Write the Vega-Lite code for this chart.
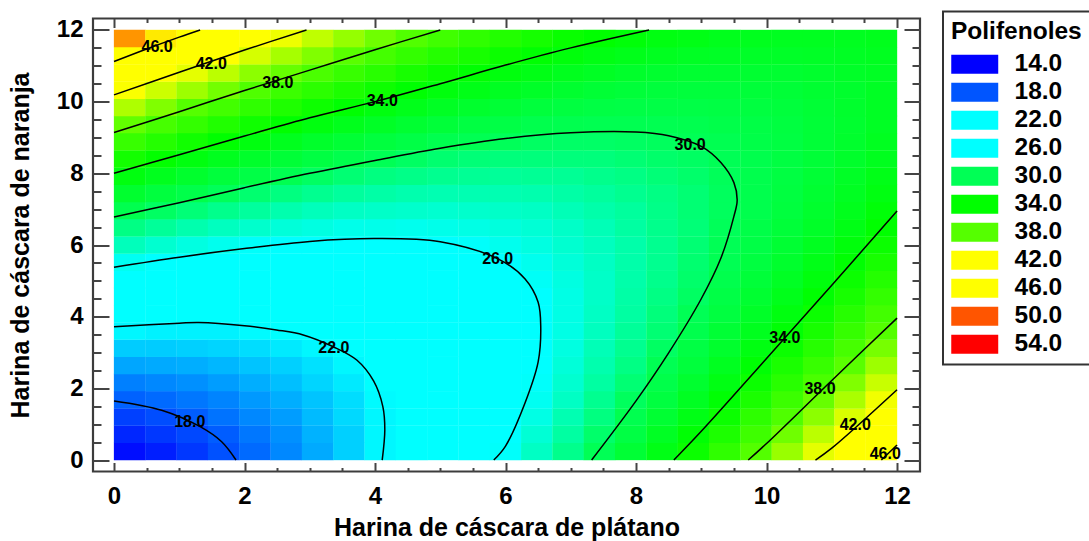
{"$schema":"https://vega.github.io/schema/vega-lite/v6.json","width":827,"height":453,"autosize":{"type":"none"},"padding":{"left":93,"top":18.5,"right":169,"bottom":69.5},"background":"white","config":{"font":"Liberation Sans","view":{"stroke":"#3c3c3c","strokeWidth":2.2},"legend":{"strokeWidth":2},"axis":{"grid":false,"domain":false,"tickColor":"#444444","tickWidth":2,"labelColor":"black","labelFont":"Liberation Sans","labelFontWeight":"bold","labelFontSize":24,"titleFont":"Liberation Sans","titleFontWeight":"bold","titleFontSize":25,"titleColor":"black"}},"datasets":{"upper":[{"c":"18","i":0,"x":0,"y":1.65},{"c":"18","i":1,"x":0.73,"y":1.39},{"c":"18","i":2,"x":1.32,"y":0.93},{"c":"18","i":3,"x":1.65,"y":0.51},{"c":"18","i":4,"x":1.87,"y":0},{"c":"22","i":0,"x":0,"y":3.72},{"c":"22","i":1,"x":1,"y":3.82},{"c":"22","i":2,"x":1.3,"y":3.84},{"c":"22","i":3,"x":2,"y":3.75},{"c":"22","i":4,"x":2.49,"y":3.63},{"c":"22","i":5,"x":2.9,"y":3.49},{"c":"22","i":6,"x":3.36,"y":3.16},{"c":"22","i":7,"x":3.72,"y":2.79},{"c":"22","i":8,"x":3.98,"y":2.2},{"c":"22","i":9,"x":4.12,"y":1.49},{"c":"22","i":10,"x":4.15,"y":0.84},{"c":"22","i":11,"x":4.11,"y":0},{"c":"26","i":0,"x":0,"y":5.38},{"c":"26","i":1,"x":1,"y":5.66},{"c":"26","i":2,"x":2,"y":5.9},{"c":"26","i":3,"x":3,"y":6.1},{"c":"26","i":4,"x":4,"y":6.18},{"c":"26","i":5,"x":5,"y":6.09},{"c":"26","i":6,"x":5.9,"y":5.6},{"c":"26","i":7,"x":6.3,"y":5.05},{"c":"26","i":8,"x":6.5,"y":4.4},{"c":"26","i":9,"x":6.54,"y":3.7},{"c":"26","i":10,"x":6.5,"y":2.74},{"c":"26","i":11,"x":6.3,"y":1.6},{"c":"26","i":12,"x":6,"y":0.39},{"c":"26","i":13,"x":5.82,"y":0},{"c":"30","i":0,"x":0,"y":6.78},{"c":"30","i":1,"x":1,"y":7.18},{"c":"30","i":2,"x":2,"y":7.6},{"c":"30","i":3,"x":3,"y":8.0},{"c":"30","i":4,"x":4,"y":8.36},{"c":"30","i":5,"x":5,"y":8.7},{"c":"30","i":6,"x":6,"y":8.97},{"c":"30","i":7,"x":7,"y":9.13},{"c":"30","i":8,"x":8,"y":9.15},{"c":"30","i":9,"x":8.5,"y":9.05},{"c":"30","i":10,"x":9,"y":8.75},{"c":"30","i":11,"x":9.3,"y":8.3},{"c":"30","i":12,"x":9.5,"y":7.74},{"c":"30","i":13,"x":9.55,"y":7.25},{"c":"30","i":14,"x":9.5,"y":6.8},{"c":"30","i":15,"x":9.3,"y":5.63},{"c":"30","i":16,"x":9,"y":4.5},{"c":"30","i":17,"x":8.5,"y":2.99},{"c":"30","i":18,"x":8,"y":1.65},{"c":"30","i":19,"x":7.32,"y":0},{"c":"34","i":0,"x":0,"y":8.0},{"c":"34","i":1,"x":1,"y":8.52},{"c":"34","i":2,"x":2,"y":9.04},{"c":"34","i":3,"x":3,"y":9.55},{"c":"34","i":4,"x":4,"y":10.0},{"c":"34","i":5,"x":5,"y":10.5},{"c":"34","i":6,"x":6,"y":11.02},{"c":"34","i":7,"x":7,"y":11.5},{"c":"34","i":8,"x":8.2,"y":12},{"c":"38","i":0,"x":0,"y":9.14},{"c":"38","i":1,"x":1,"y":9.72},{"c":"38","i":2,"x":2,"y":10.31},{"c":"38","i":3,"x":3,"y":10.88},{"c":"38","i":4,"x":4,"y":11.45},{"c":"38","i":5,"x":5,"y":12},{"c":"42","i":0,"x":0,"y":10.19},{"c":"42","i":1,"x":1,"y":10.82},{"c":"42","i":2,"x":2,"y":11.44},{"c":"42","i":3,"x":2.95,"y":12},{"c":"46","i":0,"x":0,"y":11.12},{"c":"46","i":1,"x":0.5,"y":11.47},{"c":"46","i":2,"x":1,"y":11.8},{"c":"46","i":3,"x":1.32,"y":12}],"lower":[{"c":"34b","i":0,"x":8.58,"y":0},{"c":"34b","i":1,"x":9,"y":0.8},{"c":"34b","i":2,"x":10,"y":2.83},{"c":"34b","i":3,"x":11,"y":4.88},{"c":"34b","i":4,"x":12,"y":6.95},{"c":"38b","i":0,"x":9.72,"y":0},{"c":"38b","i":1,"x":10,"y":0.46},{"c":"38b","i":2,"x":11,"y":2.22},{"c":"38b","i":3,"x":12,"y":3.96},{"c":"42b","i":0,"x":10.75,"y":0},{"c":"42b","i":1,"x":11,"y":0.33},{"c":"42b","i":2,"x":12,"y":1.96},{"c":"46b","i":0,"x":11.76,"y":0},{"c":"46b","i":1,"x":12,"y":0.42}],"labels":[{"t":"46.0","x":0.66,"y":11.53},{"t":"42.0","x":1.49,"y":11.05},{"t":"38.0","x":2.51,"y":10.52},{"t":"34.0","x":4.11,"y":10.02},{"t":"30.0","x":8.83,"y":8.79},{"t":"26.0","x":5.88,"y":5.61},{"t":"22.0","x":3.37,"y":3.13},{"t":"18.0","x":1.16,"y":1.06},{"t":"34.0","x":10.28,"y":3.4},{"t":"38.0","x":10.82,"y":1.98},{"t":"42.0","x":11.36,"y":0.98},{"t":"46.0","x":11.82,"y":0.17}],"grid":[
{"x":0.24,"y":0.24,"z":16.3},{"x":0.72,"y":0.24,"z":16.7},{"x":1.2,"y":0.24,"z":17.3},{"x":1.68,"y":0.24,"z":17.9},{"x":2.16,"y":0.24,"z":18.5},{"x":2.64,"y":0.24,"z":19.2},{"x":3.12,"y":0.24,"z":20.0},{"x":3.6,"y":0.24,"z":20.9},{"x":4.08,"y":0.24,"z":21.8},{"x":4.56,"y":0.24,"z":22.8},{"x":5.04,"y":0.24,"z":23.8},{"x":5.52,"y":0.24,"z":24.9},{"x":6.0,"y":0.24,"z":26.1},{"x":6.48,"y":0.24,"z":27.4},{"x":6.96,"y":0.24,"z":28.7},{"x":7.44,"y":0.24,"z":30.0},{"x":7.92,"y":0.24,"z":31.5},{"x":8.4,"y":0.24,"z":33.0},{"x":8.88,"y":0.24,"z":34.5},{"x":9.36,"y":0.24,"z":36.2},{"x":9.84,"y":0.24,"z":37.9},{"x":10.32,"y":0.24,"z":39.6},{"x":10.8,"y":0.24,"z":41.4},{"x":11.28,"y":0.24,"z":43.3},{"x":11.76,"y":0.24,"z":45.3},
{"x":0.24,"y":0.72,"z":16.9},{"x":0.72,"y":0.72,"z":17.3},{"x":1.2,"y":0.72,"z":17.7},{"x":1.68,"y":0.72,"z":18.2},{"x":2.16,"y":0.72,"z":18.8},{"x":2.64,"y":0.72,"z":19.4},{"x":3.12,"y":0.72,"z":20.2},{"x":3.6,"y":0.72,"z":20.9},{"x":4.08,"y":0.72,"z":21.8},{"x":4.56,"y":0.72,"z":22.7},{"x":5.04,"y":0.72,"z":23.7},{"x":5.52,"y":0.72,"z":24.7},{"x":6.0,"y":0.72,"z":25.8},{"x":6.48,"y":0.72,"z":27.0},{"x":6.96,"y":0.72,"z":28.2},{"x":7.44,"y":0.72,"z":29.5},{"x":7.92,"y":0.72,"z":30.8},{"x":8.4,"y":0.72,"z":32.3},{"x":8.88,"y":0.72,"z":33.8},{"x":9.36,"y":0.72,"z":35.3},{"x":9.84,"y":0.72,"z":36.9},{"x":10.32,"y":0.72,"z":38.6},{"x":10.8,"y":0.72,"z":40.4},{"x":11.28,"y":0.72,"z":42.2},{"x":11.76,"y":0.72,"z":44.0},
{"x":0.24,"y":1.2,"z":17.5},{"x":0.72,"y":1.2,"z":17.8},{"x":1.2,"y":1.2,"z":18.2},{"x":1.68,"y":1.2,"z":18.7},{"x":2.16,"y":1.2,"z":19.2},{"x":2.64,"y":1.2,"z":19.7},{"x":3.12,"y":1.2,"z":20.4},{"x":3.6,"y":1.2,"z":21.1},{"x":4.08,"y":1.2,"z":21.8},{"x":4.56,"y":1.2,"z":22.7},{"x":5.04,"y":1.2,"z":23.5},{"x":5.52,"y":1.2,"z":24.5},{"x":6.0,"y":1.2,"z":25.5},{"x":6.48,"y":1.2,"z":26.6},{"x":6.96,"y":1.2,"z":27.8},{"x":7.44,"y":1.2,"z":29.0},{"x":7.92,"y":1.2,"z":30.3},{"x":8.4,"y":1.2,"z":31.6},{"x":8.88,"y":1.2,"z":33.0},{"x":9.36,"y":1.2,"z":34.5},{"x":9.84,"y":1.2,"z":36.1},{"x":10.32,"y":1.2,"z":37.7},{"x":10.8,"y":1.2,"z":39.3},{"x":11.28,"y":1.2,"z":41.1},{"x":11.76,"y":1.2,"z":42.9},
{"x":0.24,"y":1.68,"z":18.3},{"x":0.72,"y":1.68,"z":18.5},{"x":1.2,"y":1.68,"z":18.8},{"x":1.68,"y":1.68,"z":19.1},{"x":2.16,"y":1.68,"z":19.6},{"x":2.64,"y":1.68,"z":20.1},{"x":3.12,"y":1.68,"z":20.6},{"x":3.6,"y":1.68,"z":21.2},{"x":4.08,"y":1.68,"z":21.9},{"x":4.56,"y":1.68,"z":22.7},{"x":5.04,"y":1.68,"z":23.5},{"x":5.52,"y":1.68,"z":24.4},{"x":6.0,"y":1.68,"z":25.3},{"x":6.48,"y":1.68,"z":26.3},{"x":6.96,"y":1.68,"z":27.4},{"x":7.44,"y":1.68,"z":28.6},{"x":7.92,"y":1.68,"z":29.8},{"x":8.4,"y":1.68,"z":31.0},{"x":8.88,"y":1.68,"z":32.4},{"x":9.36,"y":1.68,"z":33.8},{"x":9.84,"y":1.68,"z":35.2},{"x":10.32,"y":1.68,"z":36.8},{"x":10.8,"y":1.68,"z":38.4},{"x":11.28,"y":1.68,"z":40.0},{"x":11.76,"y":1.68,"z":41.7},
{"x":0.24,"y":2.16,"z":19.0},{"x":0.72,"y":2.16,"z":19.2},{"x":1.2,"y":2.16,"z":19.4},{"x":1.68,"y":2.16,"z":19.7},{"x":2.16,"y":2.16,"z":20.1},{"x":2.64,"y":2.16,"z":20.5},{"x":3.12,"y":2.16,"z":21.0},{"x":3.6,"y":2.16,"z":21.5},{"x":4.08,"y":2.16,"z":22.1},{"x":4.56,"y":2.16,"z":22.8},{"x":5.04,"y":2.16,"z":23.5},{"x":5.52,"y":2.16,"z":24.3},{"x":6.0,"y":2.16,"z":25.2},{"x":6.48,"y":2.16,"z":26.1},{"x":6.96,"y":2.16,"z":27.1},{"x":7.44,"y":2.16,"z":28.2},{"x":7.92,"y":2.16,"z":29.3},{"x":8.4,"y":2.16,"z":30.5},{"x":8.88,"y":2.16,"z":31.8},{"x":9.36,"y":2.16,"z":33.1},{"x":9.84,"y":2.16,"z":34.5},{"x":10.32,"y":2.16,"z":35.9},{"x":10.8,"y":2.16,"z":37.5},{"x":11.28,"y":2.16,"z":39.0},{"x":11.76,"y":2.16,"z":40.7},
{"x":0.24,"y":2.64,"z":19.9},{"x":0.72,"y":2.64,"z":20.0},{"x":1.2,"y":2.64,"z":20.1},{"x":1.68,"y":2.64,"z":20.3},{"x":2.16,"y":2.64,"z":20.6},{"x":2.64,"y":2.64,"z":20.9},{"x":3.12,"y":2.64,"z":21.3},{"x":3.6,"y":2.64,"z":21.8},{"x":4.08,"y":2.64,"z":22.3},{"x":4.56,"y":2.64,"z":22.9},{"x":5.04,"y":2.64,"z":23.6},{"x":5.52,"y":2.64,"z":24.3},{"x":6.0,"y":2.64,"z":25.1},{"x":6.48,"y":2.64,"z":26.0},{"x":6.96,"y":2.64,"z":26.9},{"x":7.44,"y":2.64,"z":27.9},{"x":7.92,"y":2.64,"z":28.9},{"x":8.4,"y":2.64,"z":30.1},{"x":8.88,"y":2.64,"z":31.2},{"x":9.36,"y":2.64,"z":32.5},{"x":9.84,"y":2.64,"z":33.8},{"x":10.32,"y":2.64,"z":35.2},{"x":10.8,"y":2.64,"z":36.6},{"x":11.28,"y":2.64,"z":38.1},{"x":11.76,"y":2.64,"z":39.7},
{"x":0.24,"y":3.12,"z":20.8},{"x":0.72,"y":3.12,"z":20.8},{"x":1.2,"y":3.12,"z":20.9},{"x":1.68,"y":3.12,"z":21.0},{"x":2.16,"y":3.12,"z":21.2},{"x":2.64,"y":3.12,"z":21.5},{"x":3.12,"y":3.12,"z":21.8},{"x":3.6,"y":3.12,"z":22.2},{"x":4.08,"y":3.12,"z":22.6},{"x":4.56,"y":3.12,"z":23.2},{"x":5.04,"y":3.12,"z":23.7},{"x":5.52,"y":3.12,"z":24.4},{"x":6.0,"y":3.12,"z":25.1},{"x":6.48,"y":3.12,"z":25.9},{"x":6.96,"y":3.12,"z":26.7},{"x":7.44,"y":3.12,"z":27.7},{"x":7.92,"y":3.12,"z":28.6},{"x":8.4,"y":3.12,"z":29.7},{"x":8.88,"y":3.12,"z":30.8},{"x":9.36,"y":3.12,"z":31.9},{"x":9.84,"y":3.12,"z":33.2},{"x":10.32,"y":3.12,"z":34.5},{"x":10.8,"y":3.12,"z":35.8},{"x":11.28,"y":3.12,"z":37.3},{"x":11.76,"y":3.12,"z":38.8},
{"x":0.24,"y":3.6,"z":21.8},{"x":0.72,"y":3.6,"z":21.7},{"x":1.2,"y":3.6,"z":21.7},{"x":1.68,"y":3.6,"z":21.7},{"x":2.16,"y":3.6,"z":21.9},{"x":2.64,"y":3.6,"z":22.1},{"x":3.12,"y":3.6,"z":22.3},{"x":3.6,"y":3.6,"z":22.6},{"x":4.08,"y":3.6,"z":23.0},{"x":4.56,"y":3.6,"z":23.4},{"x":5.04,"y":3.6,"z":24.0},{"x":5.52,"y":3.6,"z":24.5},{"x":6.0,"y":3.6,"z":25.2},{"x":6.48,"y":3.6,"z":25.9},{"x":6.96,"y":3.6,"z":26.6},{"x":7.44,"y":3.6,"z":27.5},{"x":7.92,"y":3.6,"z":28.4},{"x":8.4,"y":3.6,"z":29.3},{"x":8.88,"y":3.6,"z":30.4},{"x":9.36,"y":3.6,"z":31.5},{"x":9.84,"y":3.6,"z":32.6},{"x":10.32,"y":3.6,"z":33.8},{"x":10.8,"y":3.6,"z":35.1},{"x":11.28,"y":3.6,"z":36.5},{"x":11.76,"y":3.6,"z":37.9},
{"x":0.24,"y":4.08,"z":22.8},{"x":0.72,"y":4.08,"z":22.7},{"x":1.2,"y":4.08,"z":22.6},{"x":1.68,"y":4.08,"z":22.6},{"x":2.16,"y":4.08,"z":22.6},{"x":2.64,"y":4.08,"z":22.7},{"x":3.12,"y":4.08,"z":22.9},{"x":3.6,"y":4.08,"z":23.1},{"x":4.08,"y":4.08,"z":23.4},{"x":4.56,"y":4.08,"z":23.8},{"x":5.04,"y":4.08,"z":24.2},{"x":5.52,"y":4.08,"z":24.7},{"x":6.0,"y":4.08,"z":25.3},{"x":6.48,"y":4.08,"z":25.9},{"x":6.96,"y":4.08,"z":26.6},{"x":7.44,"y":4.08,"z":27.4},{"x":7.92,"y":4.08,"z":28.2},{"x":8.4,"y":4.08,"z":29.1},{"x":8.88,"y":4.08,"z":30.0},{"x":9.36,"y":4.08,"z":31.0},{"x":9.84,"y":4.08,"z":32.1},{"x":10.32,"y":4.08,"z":33.3},{"x":10.8,"y":4.08,"z":34.5},{"x":11.28,"y":4.08,"z":35.8},{"x":11.76,"y":4.08,"z":37.1},
{"x":0.24,"y":4.56,"z":23.9},{"x":0.72,"y":4.56,"z":23.7},{"x":1.2,"y":4.56,"z":23.5},{"x":1.68,"y":4.56,"z":23.4},{"x":2.16,"y":4.56,"z":23.4},{"x":2.64,"y":4.56,"z":23.4},{"x":3.12,"y":4.56,"z":23.5},{"x":3.6,"y":4.56,"z":23.7},{"x":4.08,"y":4.56,"z":23.9},{"x":4.56,"y":4.56,"z":24.2},{"x":5.04,"y":4.56,"z":24.6},{"x":5.52,"y":4.56,"z":25.0},{"x":6.0,"y":4.56,"z":25.5},{"x":6.48,"y":4.56,"z":26.0},{"x":6.96,"y":4.56,"z":26.6},{"x":7.44,"y":4.56,"z":27.3},{"x":7.92,"y":4.56,"z":28.1},{"x":8.4,"y":4.56,"z":28.9},{"x":8.88,"y":4.56,"z":29.7},{"x":9.36,"y":4.56,"z":30.7},{"x":9.84,"y":4.56,"z":31.7},{"x":10.32,"y":4.56,"z":32.8},{"x":10.8,"y":4.56,"z":33.9},{"x":11.28,"y":4.56,"z":35.1},{"x":11.76,"y":4.56,"z":36.4},
{"x":0.24,"y":5.04,"z":25.1},{"x":0.72,"y":5.04,"z":24.8},{"x":1.2,"y":5.04,"z":24.5},{"x":1.68,"y":5.04,"z":24.3},{"x":2.16,"y":5.04,"z":24.2},{"x":2.64,"y":5.04,"z":24.2},{"x":3.12,"y":5.04,"z":24.2},{"x":3.6,"y":5.04,"z":24.3},{"x":4.08,"y":5.04,"z":24.5},{"x":4.56,"y":5.04,"z":24.7},{"x":5.04,"y":5.04,"z":24.9},{"x":5.52,"y":5.04,"z":25.3},{"x":6.0,"y":5.04,"z":25.7},{"x":6.48,"y":5.04,"z":26.2},{"x":6.96,"y":5.04,"z":26.7},{"x":7.44,"y":5.04,"z":27.3},{"x":7.92,"y":5.04,"z":28.0},{"x":8.4,"y":5.04,"z":28.7},{"x":8.88,"y":5.04,"z":29.5},{"x":9.36,"y":5.04,"z":30.4},{"x":9.84,"y":5.04,"z":31.3},{"x":10.32,"y":5.04,"z":32.3},{"x":10.8,"y":5.04,"z":33.4},{"x":11.28,"y":5.04,"z":34.5},{"x":11.76,"y":5.04,"z":35.7},
{"x":0.24,"y":5.52,"z":26.3},{"x":0.72,"y":5.52,"z":25.9},{"x":1.2,"y":5.52,"z":25.6},{"x":1.68,"y":5.52,"z":25.3},{"x":2.16,"y":5.52,"z":25.2},{"x":2.64,"y":5.52,"z":25.0},{"x":3.12,"y":5.52,"z":25.0},{"x":3.6,"y":5.52,"z":25.0},{"x":4.08,"y":5.52,"z":25.1},{"x":4.56,"y":5.52,"z":25.2},{"x":5.04,"y":5.52,"z":25.4},{"x":5.52,"y":5.52,"z":25.7},{"x":6.0,"y":5.52,"z":26.0},{"x":6.48,"y":5.52,"z":26.4},{"x":6.96,"y":5.52,"z":26.9},{"x":7.44,"y":5.52,"z":27.4},{"x":7.92,"y":5.52,"z":28.0},{"x":8.4,"y":5.52,"z":28.6},{"x":8.88,"y":5.52,"z":29.4},{"x":9.36,"y":5.52,"z":30.1},{"x":9.84,"y":5.52,"z":31.0},{"x":10.32,"y":5.52,"z":31.9},{"x":10.8,"y":5.52,"z":32.9},{"x":11.28,"y":5.52,"z":33.9},{"x":11.76,"y":5.52,"z":35.1},
{"x":0.24,"y":6.0,"z":27.6},{"x":0.72,"y":6.0,"z":27.1},{"x":1.2,"y":6.0,"z":26.7},{"x":1.68,"y":6.0,"z":26.4},{"x":2.16,"y":6.0,"z":26.1},{"x":2.64,"y":6.0,"z":25.9},{"x":3.12,"y":6.0,"z":25.8},{"x":3.6,"y":6.0,"z":25.7},{"x":4.08,"y":6.0,"z":25.7},{"x":4.56,"y":6.0,"z":25.8},{"x":5.04,"y":6.0,"z":25.9},{"x":5.52,"y":6.0,"z":26.1},{"x":6.0,"y":6.0,"z":26.4},{"x":6.48,"y":6.0,"z":26.7},{"x":6.96,"y":6.0,"z":27.1},{"x":7.44,"y":6.0,"z":27.5},{"x":7.92,"y":6.0,"z":28.0},{"x":8.4,"y":6.0,"z":28.6},{"x":8.88,"y":6.0,"z":29.3},{"x":9.36,"y":6.0,"z":30.0},{"x":9.84,"y":6.0,"z":30.7},{"x":10.32,"y":6.0,"z":31.6},{"x":10.8,"y":6.0,"z":32.5},{"x":11.28,"y":6.0,"z":33.5},{"x":11.76,"y":6.0,"z":34.5},
{"x":0.24,"y":6.48,"z":28.9},{"x":0.72,"y":6.48,"z":28.4},{"x":1.2,"y":6.48,"z":27.9},{"x":1.68,"y":6.48,"z":27.5},{"x":2.16,"y":6.48,"z":27.2},{"x":2.64,"y":6.48,"z":26.9},{"x":3.12,"y":6.48,"z":26.7},{"x":3.6,"y":6.48,"z":26.5},{"x":4.08,"y":6.48,"z":26.5},{"x":4.56,"y":6.48,"z":26.4},{"x":5.04,"y":6.48,"z":26.5},{"x":5.52,"y":6.48,"z":26.6},{"x":6.0,"y":6.48,"z":26.8},{"x":6.48,"y":6.48,"z":27.0},{"x":6.96,"y":6.48,"z":27.3},{"x":7.44,"y":6.48,"z":27.7},{"x":7.92,"y":6.48,"z":28.2},{"x":8.4,"y":6.48,"z":28.7},{"x":8.88,"y":6.48,"z":29.2},{"x":9.36,"y":6.48,"z":29.9},{"x":9.84,"y":6.48,"z":30.6},{"x":10.32,"y":6.48,"z":31.3},{"x":10.8,"y":6.48,"z":32.1},{"x":11.28,"y":6.48,"z":33.0},{"x":11.76,"y":6.48,"z":34.0},
{"x":0.24,"y":6.96,"z":30.3},{"x":0.72,"y":6.96,"z":29.7},{"x":1.2,"y":6.96,"z":29.2},{"x":1.68,"y":6.96,"z":28.7},{"x":2.16,"y":6.96,"z":28.3},{"x":2.64,"y":6.96,"z":27.9},{"x":3.12,"y":6.96,"z":27.6},{"x":3.6,"y":6.96,"z":27.4},{"x":4.08,"y":6.96,"z":27.3},{"x":4.56,"y":6.96,"z":27.2},{"x":5.04,"y":6.96,"z":27.1},{"x":5.52,"y":6.96,"z":27.2},{"x":6.0,"y":6.96,"z":27.3},{"x":6.48,"y":6.96,"z":27.4},{"x":6.96,"y":6.96,"z":27.7},{"x":7.44,"y":6.96,"z":28.0},{"x":7.92,"y":6.96,"z":28.3},{"x":8.4,"y":6.96,"z":28.8},{"x":8.88,"y":6.96,"z":29.3},{"x":9.36,"y":6.96,"z":29.8},{"x":9.84,"y":6.96,"z":30.4},{"x":10.32,"y":6.96,"z":31.1},{"x":10.8,"y":6.96,"z":31.9},{"x":11.28,"y":6.96,"z":32.7},{"x":11.76,"y":6.96,"z":33.6},
{"x":0.24,"y":7.44,"z":31.8},{"x":0.72,"y":7.44,"z":31.1},{"x":1.2,"y":7.44,"z":30.5},{"x":1.68,"y":7.44,"z":29.9},{"x":2.16,"y":7.44,"z":29.4},{"x":2.64,"y":7.44,"z":29.0},{"x":3.12,"y":7.44,"z":28.6},{"x":3.6,"y":7.44,"z":28.3},{"x":4.08,"y":7.44,"z":28.1},{"x":4.56,"y":7.44,"z":27.9},{"x":5.04,"y":7.44,"z":27.8},{"x":5.52,"y":7.44,"z":27.8},{"x":6.0,"y":7.44,"z":27.8},{"x":6.48,"y":7.44,"z":27.9},{"x":6.96,"y":7.44,"z":28.1},{"x":7.44,"y":7.44,"z":28.3},{"x":7.92,"y":7.44,"z":28.6},{"x":8.4,"y":7.44,"z":28.9},{"x":8.88,"y":7.44,"z":29.3},{"x":9.36,"y":7.44,"z":29.8},{"x":9.84,"y":7.44,"z":30.4},{"x":10.32,"y":7.44,"z":31.0},{"x":10.8,"y":7.44,"z":31.7},{"x":11.28,"y":7.44,"z":32.4},{"x":11.76,"y":7.44,"z":33.2},
{"x":0.24,"y":7.92,"z":33.3},{"x":0.72,"y":7.92,"z":32.6},{"x":1.2,"y":7.92,"z":31.9},{"x":1.68,"y":7.92,"z":31.2},{"x":2.16,"y":7.92,"z":30.7},{"x":2.64,"y":7.92,"z":30.2},{"x":3.12,"y":7.92,"z":29.7},{"x":3.6,"y":7.92,"z":29.3},{"x":4.08,"y":7.92,"z":29.0},{"x":4.56,"y":7.92,"z":28.8},{"x":5.04,"y":7.92,"z":28.6},{"x":5.52,"y":7.92,"z":28.5},{"x":6.0,"y":7.92,"z":28.4},{"x":6.48,"y":7.92,"z":28.5},{"x":6.96,"y":7.92,"z":28.5},{"x":7.44,"y":7.92,"z":28.7},{"x":7.92,"y":7.92,"z":28.9},{"x":8.4,"y":7.92,"z":29.2},{"x":8.88,"y":7.92,"z":29.5},{"x":9.36,"y":7.92,"z":29.9},{"x":9.84,"y":7.92,"z":30.4},{"x":10.32,"y":7.92,"z":30.9},{"x":10.8,"y":7.92,"z":31.5},{"x":11.28,"y":7.92,"z":32.2},{"x":11.76,"y":7.92,"z":32.9},
{"x":0.24,"y":8.4,"z":34.9},{"x":0.72,"y":8.4,"z":34.1},{"x":1.2,"y":8.4,"z":33.3},{"x":1.68,"y":8.4,"z":32.6},{"x":2.16,"y":8.4,"z":32.0},{"x":2.64,"y":8.4,"z":31.4},{"x":3.12,"y":8.4,"z":30.9},{"x":3.6,"y":8.4,"z":30.4},{"x":4.08,"y":8.4,"z":30.0},{"x":4.56,"y":8.4,"z":29.7},{"x":5.04,"y":8.4,"z":29.4},{"x":5.52,"y":8.4,"z":29.2},{"x":6.0,"y":8.4,"z":29.1},{"x":6.48,"y":8.4,"z":29.1},{"x":6.96,"y":8.4,"z":29.1},{"x":7.44,"y":8.4,"z":29.1},{"x":7.92,"y":8.4,"z":29.3},{"x":8.4,"y":8.4,"z":29.5},{"x":8.88,"y":8.4,"z":29.7},{"x":9.36,"y":8.4,"z":30.0},{"x":9.84,"y":8.4,"z":30.4},{"x":10.32,"y":8.4,"z":30.9},{"x":10.8,"y":8.4,"z":31.4},{"x":11.28,"y":8.4,"z":32.0},{"x":11.76,"y":8.4,"z":32.6},
{"x":0.24,"y":8.88,"z":36.6},{"x":0.72,"y":8.88,"z":35.7},{"x":1.2,"y":8.88,"z":34.8},{"x":1.68,"y":8.88,"z":34.0},{"x":2.16,"y":8.88,"z":33.3},{"x":2.64,"y":8.88,"z":32.6},{"x":3.12,"y":8.88,"z":32.0},{"x":3.6,"y":8.88,"z":31.5},{"x":4.08,"y":8.88,"z":31.1},{"x":4.56,"y":8.88,"z":30.7},{"x":5.04,"y":8.88,"z":30.3},{"x":5.52,"y":8.88,"z":30.1},{"x":6.0,"y":8.88,"z":29.9},{"x":6.48,"y":8.88,"z":29.7},{"x":6.96,"y":8.88,"z":29.6},{"x":7.44,"y":8.88,"z":29.6},{"x":7.92,"y":8.88,"z":29.7},{"x":8.4,"y":8.88,"z":29.8},{"x":8.88,"y":8.88,"z":30.0},{"x":9.36,"y":8.88,"z":30.2},{"x":9.84,"y":8.88,"z":30.6},{"x":10.32,"y":8.88,"z":30.9},{"x":10.8,"y":8.88,"z":31.4},{"x":11.28,"y":8.88,"z":31.9},{"x":11.76,"y":8.88,"z":32.5},
{"x":0.24,"y":9.36,"z":38.3},{"x":0.72,"y":9.36,"z":37.3},{"x":1.2,"y":9.36,"z":36.4},{"x":1.68,"y":9.36,"z":35.5},{"x":2.16,"y":9.36,"z":34.7},{"x":2.64,"y":9.36,"z":34.0},{"x":3.12,"y":9.36,"z":33.3},{"x":3.6,"y":9.36,"z":32.7},{"x":4.08,"y":9.36,"z":32.2},{"x":4.56,"y":9.36,"z":31.7},{"x":5.04,"y":9.36,"z":31.3},{"x":5.52,"y":9.36,"z":30.9},{"x":6.0,"y":9.36,"z":30.7},{"x":6.48,"y":9.36,"z":30.4},{"x":6.96,"y":9.36,"z":30.3},{"x":7.44,"y":9.36,"z":30.2},{"x":7.92,"y":9.36,"z":30.2},{"x":8.4,"y":9.36,"z":30.2},{"x":8.88,"y":9.36,"z":30.3},{"x":9.36,"y":9.36,"z":30.5},{"x":9.84,"y":9.36,"z":30.7},{"x":10.32,"y":9.36,"z":31.0},{"x":10.8,"y":9.36,"z":31.4},{"x":11.28,"y":9.36,"z":31.8},{"x":11.76,"y":9.36,"z":32.3},
{"x":0.24,"y":9.84,"z":40.1},{"x":0.72,"y":9.84,"z":39.0},{"x":1.2,"y":9.84,"z":38.0},{"x":1.68,"y":9.84,"z":37.1},{"x":2.16,"y":9.84,"z":36.2},{"x":2.64,"y":9.84,"z":35.4},{"x":3.12,"y":9.84,"z":34.6},{"x":3.6,"y":9.84,"z":33.9},{"x":4.08,"y":9.84,"z":33.3},{"x":4.56,"y":9.84,"z":32.8},{"x":5.04,"y":9.84,"z":32.3},{"x":5.52,"y":9.84,"z":31.9},{"x":6.0,"y":9.84,"z":31.5},{"x":6.48,"y":9.84,"z":31.2},{"x":6.96,"y":9.84,"z":31.0},{"x":7.44,"y":9.84,"z":30.8},{"x":7.92,"y":9.84,"z":30.7},{"x":8.4,"y":9.84,"z":30.7},{"x":8.88,"y":9.84,"z":30.7},{"x":9.36,"y":9.84,"z":30.8},{"x":9.84,"y":9.84,"z":31.0},{"x":10.32,"y":9.84,"z":31.2},{"x":10.8,"y":9.84,"z":31.5},{"x":11.28,"y":9.84,"z":31.9},{"x":11.76,"y":9.84,"z":32.3},
{"x":0.24,"y":10.32,"z":41.9},{"x":0.72,"y":10.32,"z":40.8},{"x":1.2,"y":10.32,"z":39.7},{"x":1.68,"y":10.32,"z":38.7},{"x":2.16,"y":10.32,"z":37.7},{"x":2.64,"y":10.32,"z":36.8},{"x":3.12,"y":10.32,"z":36.0},{"x":3.6,"y":10.32,"z":35.3},{"x":4.08,"y":10.32,"z":34.6},{"x":4.56,"y":10.32,"z":33.9},{"x":5.04,"y":10.32,"z":33.4},{"x":5.52,"y":10.32,"z":32.9},{"x":6.0,"y":10.32,"z":32.4},{"x":6.48,"y":10.32,"z":32.1},{"x":6.96,"y":10.32,"z":31.8},{"x":7.44,"y":10.32,"z":31.5},{"x":7.92,"y":10.32,"z":31.3},{"x":8.4,"y":10.32,"z":31.2},{"x":8.88,"y":10.32,"z":31.2},{"x":9.36,"y":10.32,"z":31.2},{"x":9.84,"y":10.32,"z":31.3},{"x":10.32,"y":10.32,"z":31.4},{"x":10.8,"y":10.32,"z":31.7},{"x":11.28,"y":10.32,"z":31.9},{"x":11.76,"y":10.32,"z":32.3},
{"x":0.24,"y":10.8,"z":43.8},{"x":0.72,"y":10.8,"z":42.6},{"x":1.2,"y":10.8,"z":41.4},{"x":1.68,"y":10.8,"z":40.4},{"x":2.16,"y":10.8,"z":39.3},{"x":2.64,"y":10.8,"z":38.4},{"x":3.12,"y":10.8,"z":37.5},{"x":3.6,"y":10.8,"z":36.6},{"x":4.08,"y":10.8,"z":35.9},{"x":4.56,"y":10.8,"z":35.1},{"x":5.04,"y":10.8,"z":34.5},{"x":5.52,"y":10.8,"z":33.9},{"x":6.0,"y":10.8,"z":33.4},{"x":6.48,"y":10.8,"z":33.0},{"x":6.96,"y":10.8,"z":32.6},{"x":7.44,"y":10.8,"z":32.3},{"x":7.92,"y":10.8,"z":32.0},{"x":8.4,"y":10.8,"z":31.8},{"x":8.88,"y":10.8,"z":31.7},{"x":9.36,"y":10.8,"z":31.7},{"x":9.84,"y":10.8,"z":31.7},{"x":10.32,"y":10.8,"z":31.7},{"x":10.8,"y":10.8,"z":31.9},{"x":11.28,"y":10.8,"z":32.1},{"x":11.76,"y":10.8,"z":32.3},
{"x":0.24,"y":11.28,"z":45.8},{"x":0.72,"y":11.28,"z":44.5},{"x":1.2,"y":11.28,"z":43.3},{"x":1.68,"y":11.28,"z":42.1},{"x":2.16,"y":11.28,"z":41.0},{"x":2.64,"y":11.28,"z":39.9},{"x":3.12,"y":11.28,"z":39.0},{"x":3.6,"y":11.28,"z":38.1},{"x":4.08,"y":11.28,"z":37.2},{"x":4.56,"y":11.28,"z":36.4},{"x":5.04,"y":11.28,"z":35.7},{"x":5.52,"y":11.28,"z":35.1},{"x":6.0,"y":11.28,"z":34.5},{"x":6.48,"y":11.28,"z":33.9},{"x":6.96,"y":11.28,"z":33.5},{"x":7.44,"y":11.28,"z":33.1},{"x":7.92,"y":11.28,"z":32.8},{"x":8.4,"y":11.28,"z":32.5},{"x":8.88,"y":11.28,"z":32.3},{"x":9.36,"y":11.28,"z":32.2},{"x":9.84,"y":11.28,"z":32.1},{"x":10.32,"y":11.28,"z":32.1},{"x":10.8,"y":11.28,"z":32.2},{"x":11.28,"y":11.28,"z":32.3},{"x":11.76,"y":11.28,"z":32.5},
{"x":0.24,"y":11.76,"z":48.5},{"x":0.72,"y":11.76,"z":46.5},{"x":1.2,"y":11.76,"z":45.1},{"x":1.68,"y":11.76,"z":43.9},{"x":2.16,"y":11.76,"z":42.7},{"x":2.64,"y":11.76,"z":41.6},{"x":3.12,"y":11.76,"z":40.5},{"x":3.6,"y":11.76,"z":39.5},{"x":4.08,"y":11.76,"z":38.6},{"x":4.56,"y":11.76,"z":37.8},{"x":5.04,"y":11.76,"z":37.0},{"x":5.52,"y":11.76,"z":36.2},{"x":6.0,"y":11.76,"z":35.6},{"x":6.48,"y":11.76,"z":35.0},{"x":6.96,"y":11.76,"z":34.4},{"x":7.44,"y":11.76,"z":34.0},{"x":7.92,"y":11.76,"z":33.6},{"x":8.4,"y":11.76,"z":33.2},{"x":8.88,"y":11.76,"z":33.0},{"x":9.36,"y":11.76,"z":32.7},{"x":9.84,"y":11.76,"z":32.6},{"x":10.32,"y":11.76,"z":32.5},{"x":10.8,"y":11.76,"z":32.5},{"x":11.28,"y":11.76,"z":32.5},{"x":11.76,"y":11.76,"z":32.7}
]},"resolve":{"scale":{"x":"independent","y":"independent"},"axis":{"x":"independent","y":"independent"}},"layer":[
{"data":{"name":"grid"},"mark":{"type":"rect","width":31.6,"height":17.5},"encoding":{"x":{"field":"x","type":"quantitative","scale":{"domain":[-0.322,12.352],"nice":false,"zero":false},"axis":{"orient":"bottom","values":[0,2,4,6,8,10,12],"tickSize":-9,"labelPadding":22,"title":"Harina de cáscara de plátano","titlePadding":7}},"y":{"field":"y","type":"quantitative","scale":{"domain":[-0.32,12.32],"nice":false,"zero":false},"axis":{"orient":"left","values":[0,2,4,6,8,10,12],"tickSize":-16,"labelPadding":26,"title":"Harina de cáscara de naranja","titlePadding":23}},"color":{"field":"z","type":"quantitative","scale":{"domain":[14,16,18,22,26,30,34,38,42,46,50,54],"range":["#0000ff","#0000ff","#0055ff","#00ffff","#00ffff","#00ff55","#00ff00","#55ff00","#ffff00","#ffff00","#ff5500","#ff0000"],"interpolate":"rgb"},"legend":{"type":"symbol","orient":"none","legendX":850,"legendY":-7,"values":[14,18,22,26,30,34,38,42,46,50,54],"format":".1f","title":"Polifenoles","titleFont":"Liberation Sans","titleFontWeight":"bold","titleFontSize":24.5,"titleColor":"black","titlePadding":8,"labelFont":"Liberation Sans","labelFontWeight":"bold","labelFontSize":24.5,"labelColor":"black","labelOffset":39,"symbolType":"M-2,-1.57H5.83V1.57H-2Z","symbolSize":144,"symbolStrokeWidth":0,"rowPadding":3,"padding":8,"strokeColor":"#333333","fillColor":"white"}}}},
{"data":{"name":"upper"},"mark":{"type":"line","color":"black","strokeWidth":1.5,"interpolate":"catmull-rom"},"encoding":{"x":{"field":"x","type":"quantitative","scale":{"domain":[-0.322,12.352],"nice":false,"zero":false},"axis":{"orient":"bottom","values":[0.5,1,1.5,2.5,3,3.5,4.5,5,5.5,6.5,7,7.5,8.5,9,9.5,10.5,11,11.5],"tickSize":-4,"labels":false,"title":null}},"y":{"field":"y","type":"quantitative","scale":{"domain":[-0.32,12.32],"nice":false,"zero":false},"axis":{"orient":"left","values":[0.5,1,1.5,2.5,3,3.5,4.5,5,5.5,6.5,7,7.5,8.5,9,9.5,10.5,11,11.5],"tickSize":-8,"labels":false,"title":null}},"detail":{"field":"c"},"order":{"field":"i"}}},
{"data":{"name":"lower"},"mark":{"type":"line","color":"black","strokeWidth":1.5,"interpolate":"catmull-rom"},"encoding":{"x":{"field":"x","type":"quantitative","scale":{"domain":[-0.322,12.352],"nice":false,"zero":false},"axis":{"orient":"top","values":[0.5,1,1.5,2.5,3,3.5,4.5,5,5.5,6.5,7,7.5,8.5,9,9.5,10.5,11,11.5],"tickSize":-4,"labels":false,"title":null}},"y":{"field":"y","type":"quantitative","scale":{"domain":[-0.32,12.32],"nice":false,"zero":false},"axis":{"orient":"right","values":[0.5,1,1.5,2.5,3,3.5,4.5,5,5.5,6.5,7,7.5,8.5,9,9.5,10.5,11,11.5],"tickSize":-8,"labels":false,"title":null}},"detail":{"field":"c"},"order":{"field":"i"}}},
{"data":{"name":"labels"},"mark":{"type":"text","font":"Liberation Sans","fontWeight":"bold","fontSize":16,"color":"black","align":"center","baseline":"middle"},"encoding":{"x":{"field":"x","type":"quantitative","scale":{"domain":[-0.322,12.352],"nice":false,"zero":false},"axis":{"orient":"top","values":[0,2,4,6,8,10,12],"tickSize":-9,"labels":false,"title":null}},"y":{"field":"y","type":"quantitative","scale":{"domain":[-0.32,12.32],"nice":false,"zero":false},"axis":{"orient":"right","values":[0,2,4,6,8,10,12],"tickSize":-16,"labels":false,"title":null}},"text":{"field":"t","type":"nominal"}}}
]}
